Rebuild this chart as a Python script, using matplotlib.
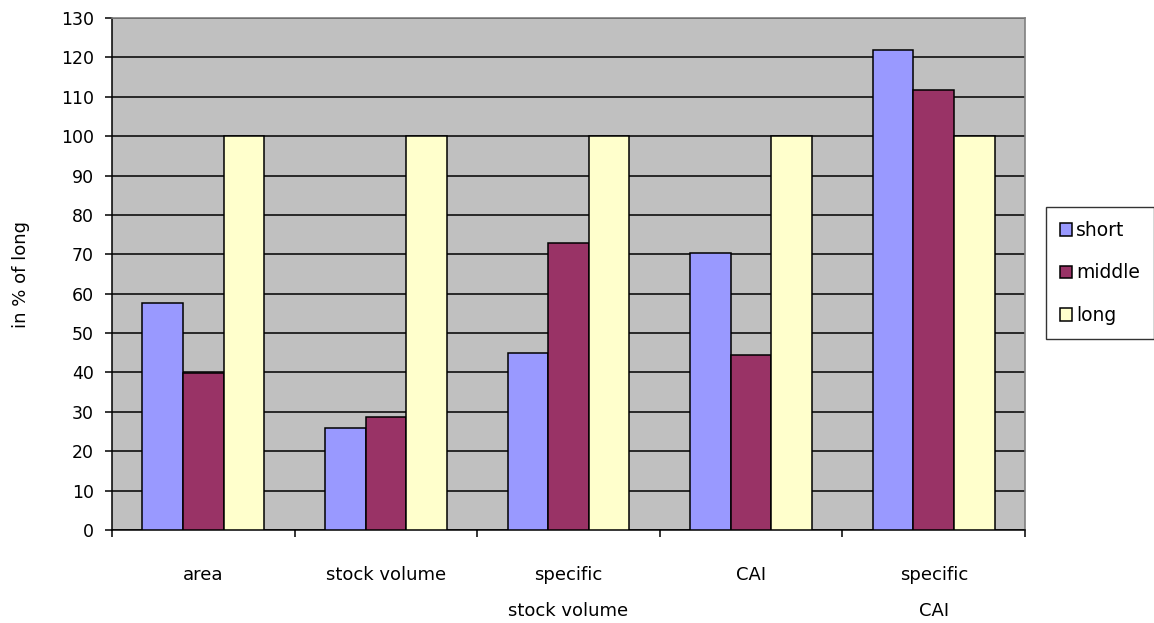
import numpy as np
import matplotlib.pyplot as plt

categories = ['area', 'stock volume', 'specific\nstock volume', 'CAI', 'specific\nCAI']
short = [57.7, 25.8, 44.9, 70.3, 121.9]
middle = [39.9, 28.8, 72.8, 44.5, 111.8]
long_ = [100, 100, 100, 100, 100]
series = ['short', 'middle', 'long']
colors = ['#9999FF', '#993366', '#FFFFCC']

plt.rcParams['font.family'] = 'DejaVu Sans'
plt.rcParams['font.size'] = 12.5

fig = plt.figure(figsize=(11.54, 6.23), dpi=100)
ax = fig.add_axes([112 / 1154, 93 / 623, 913 / 1154, 512 / 623])
ax.set_facecolor('#C0C0C0')

x = np.arange(len(categories))
w = 2 / 9
for i, (vals, name, c) in enumerate(zip([short, middle, long_], series, colors)):
    ax.bar(x + (i - 1) * w, vals, w, color=c, edgecolor='black',
           linewidth=1.1, label=name, zorder=3)

ax.set_xlim(-0.5, len(categories) - 0.5)
ax.set_ylim(0, 130)
ax.set_yticks(np.arange(0, 131, 10))
ax.yaxis.grid(True, color='black', linewidth=1.1, zorder=1)
ax.set_axisbelow(True)

ax.set_xticks(x)
ax.set_xticklabels(categories, linespacing=2.25, fontsize=13)
ax.set_xticks(np.arange(-0.5, len(categories)), minor=True)
ax.tick_params(axis='x', which='major', length=0, pad=26)
ax.tick_params(axis='x', which='minor', length=5, width=1.1, direction='out')
ax.tick_params(axis='y', length=5, width=1.1, direction='out', pad=8)

for s in ['top', 'right']:
    ax.spines[s].set_color('#808080')
    ax.spines[s].set_linewidth(1.2)
for s in ['left', 'bottom']:
    ax.spines[s].set_color('black')
    ax.spines[s].set_linewidth(1.1)

ax.set_ylabel('in % of long', labelpad=22, fontsize=13)

leg = ax.legend(loc='center left', bbox_to_anchor=(1046 / 1154, (623 - 273) / 623),
                bbox_transform=fig.transFigure, frameon=True, fancybox=False,
                edgecolor='black', handlelength=0.65, handleheight=0.65,
                handletextpad=0.2, labelspacing=1.25, borderpad=0.75,
                borderaxespad=0, fontsize=13.5)
leg.get_frame().set_linewidth(1.0)

fig.savefig('out.png', dpi=100)
